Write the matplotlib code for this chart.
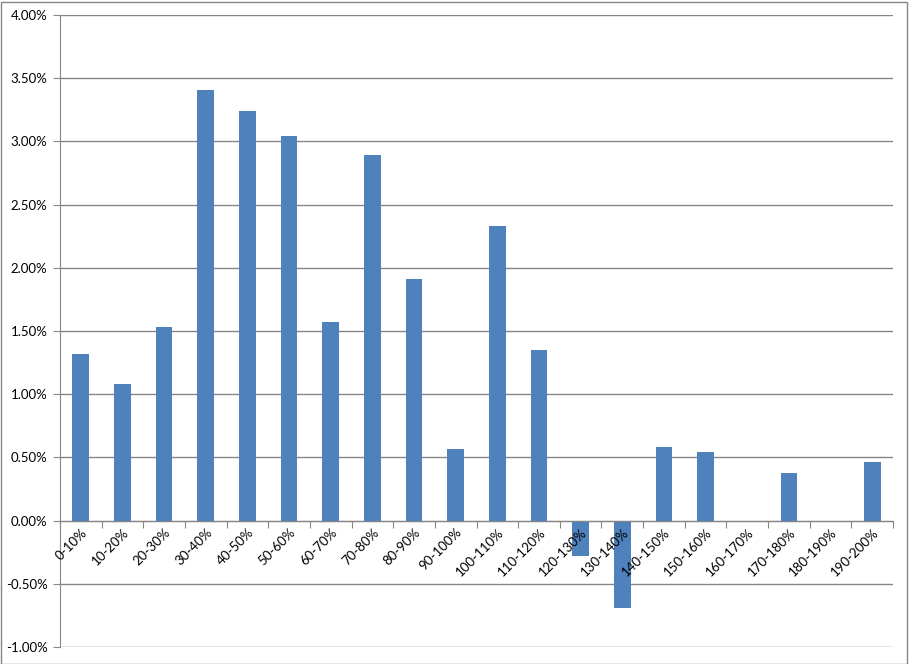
from matplotlib import pyplot as plt
from matplotlib.patches import Rectangle
from matplotlib.ticker import FuncFormatter
import numpy as np

# categories and values (percent)
categories = ['0-10%', '10-20%', '20-30%', '30-40%', '40-50%', '50-60%',
              '60-70%', '70-80%', '80-90%', '90-100%', '100-110%', '110-120%',
              '120-130%', '130-140%', '140-150%', '150-160%', '160-170%',
              '170-180%', '180-190%', '190-200%']
values = [1.32, 1.08, 1.53, 3.41, 3.24, 3.04, 1.57, 2.89, 1.91, 0.57,
          2.33, 1.35, -0.28, -0.69, 0.58, 0.54, 0.0, 0.38, 0.0, 0.46]
yticks = np.arange(-1.0, 4.01, 0.5)

bar_color = '#4F81BD'
line_color = '#868686'

plt.rcParams['font.family'] = ['Lato', 'DejaVu Sans']

fig = plt.figure(figsize=(9.09, 6.64), dpi=100)
ax = fig.add_axes([60 / 909, 1 - 647 / 664, 833 / 909, 632 / 664])

# axis line sits at zero (do this first, it resets the ticks)
ax.spines['bottom'].set_position(('data', 0))
ax.spines['bottom'].set_color(line_color)
ax.spines['left'].set_color(line_color)
ax.spines['top'].set_visible(False)
ax.spines['right'].set_visible(False)

# gridlines behind the bars, tick labels in front of them
for v in yticks:
    ax.axhline(v, color=line_color, linewidth=1, zorder=0)
ax.set_axisbelow(False)

x = np.arange(len(categories))
ax.bar(x, values, width=0.4, color=bar_color, zorder=2)

ax.set_xlim(-0.5, len(categories) - 0.5)
ax.set_ylim(-1.0, 4.0)
ax.set_yticks(yticks)
ax.yaxis.set_major_formatter(FuncFormatter(lambda v, p: f'{v:.2f}%'))

# category boundaries get tick marks, labels go in the middle
ax.set_xticks(np.arange(-0.5, len(categories), 1.0))
ax.set_xticklabels([])
ax.set_xticks(x, minor=True)
ax.set_xticklabels(categories, minor=True)
ax.tick_params(axis='x', which='minor', length=0, pad=4, labelsize=9.5)
ax.tick_params(axis='x', which='major', direction='out', length=5,
               color=line_color)
ax.tick_params(axis='y', direction='out', length=5, color=line_color,
               labelsize=9.5, pad=4)
plt.setp(ax.get_xticklabels(minor=True), rotation=45, ha='right', va='top',
         rotation_mode='anchor')

# outer chart border
fig.patches.append(Rectangle((0.5 / 909, 0.5 / 664), 906 / 909, 662 / 664,
                             transform=fig.transFigure, fill=False,
                             edgecolor=line_color, linewidth=1))

fig.savefig('out.png', dpi=100)
